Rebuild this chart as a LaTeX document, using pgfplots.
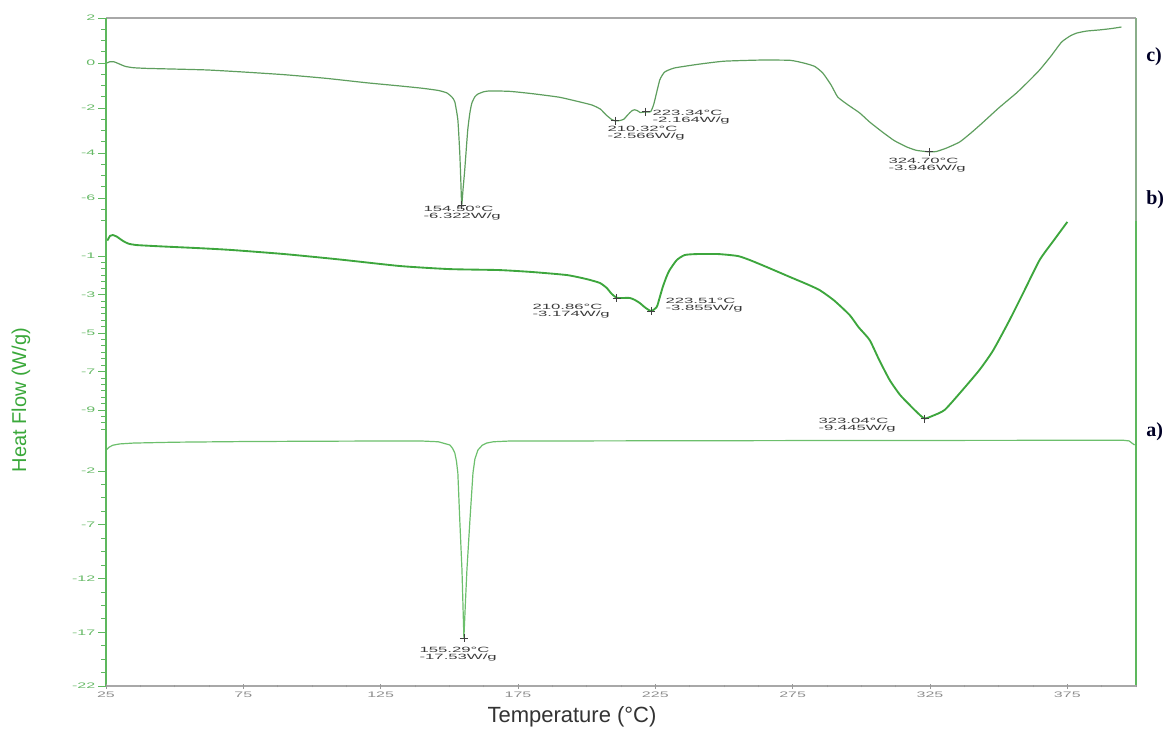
\documentclass[border=0pt]{standalone}
\usepackage{fontspec}
\setmainfont{Liberation Sans}
\newfontfamily\serifb{Liberation Serif}
\usepackage{pgfplots}
\pgfplotsset{compat=1.18}

\definecolor{axgreen}{HTML}{5DB85D}
\definecolor{tlgreen}{HTML}{66B966}
\definecolor{cc}{HTML}{5E9E5E}
\definecolor{cb}{HTML}{3DA63D}
\definecolor{ca}{HTML}{6CBF6C}
\definecolor{ylab}{HTML}{3AA83A}
\definecolor{framegray}{HTML}{A8A8A8}
\definecolor{anntext}{HTML}{3A3A3A}

\pgfplotsset{
 panel/.style={
  scale only axis, width=772.5pt, xmin=25, xmax=400,
  xtick=\empty, ytick pos=left, tick align=outside,
  major tick length=6pt, minor tick length=3.75pt,
  axis line style={draw=none},
  every tick/.style={axgreen, line width=0.6pt},
  /pgf/number format/assume math mode=true,
  yticklabel style={font=\fontsize{6}{6}\selectfont, text=tlgreen, xscale=2.0, anchor=east, xshift=2.5pt},
  clip=false, anchor=north west,
 },
 pk/.style={only marks, mark=+, mark size=3pt, black!75, mark options={line width=0.5pt}},
}
\tikzset{
 ann/.style={font=\fontsize{5.7}{5.4}\selectfont, text=anntext, xscale=2.2, anchor=north west, align=left, inner sep=0pt},
}

\begin{document}
\begin{tikzpicture}
\path[use as bounding box] (0,0) rectangle (880.5pt,-546.75pt);

% ---- top panel c)
\begin{axis}[panel, at={(79.5pt,-13.5pt)}, height=151.875pt,
  ymin=-7, ymax=2, ytick={-8,-6,...,2}, minor y tick num=3]
\addplot[cc, line width=0.9pt, line join=round, smooth, tension=0.3] coordinates {
(25.3,0.0)(26.5,0.06)(28,0.05)(30,-0.05)(32,-0.15)(35,-0.21)(40,-0.24)(50,-0.27)(62,-0.31)
(75,-0.40)(90,-0.52)(105,-0.68)(120,-0.88)(132,-1.02)(140,-1.12)(146,-1.22)(149.1,-1.33)
(151,-1.52)(152,-1.73)(153.1,-2.53)(153.8,-4.0)(154.2,-5.3)(154.5,-6.32)(155.0,-5.6)(155.6,-4.76)
(156.7,-2.98)(157.5,-2.2)(158.2,-1.78)(159.3,-1.5)(160.4,-1.38)(162.5,-1.28)(164.7,-1.24)
(172,-1.26)(180,-1.36)(190,-1.52)(197.5,-1.73)(202,-1.87)(205,-2.05)(207,-2.3)(209,-2.5)
(210.3,-2.57)(212,-2.56)(213.5,-2.5)(215,-2.3)(216.5,-2.12)(217.5,-2.08)(218.5,-2.12)
(219.5,-2.2)(221,-2.18)(223.3,-2.16)(224.5,-1.8)(226.6,-0.76)(228.4,-0.4)(232,-0.22)
(241,-0.05)(250,0.08)(263,0.13)(274,0.12)(279,0.0)(283,-0.15)(286,-0.45)(289,-0.98)
(291.4,-1.51)(295,-1.85)(299.4,-2.22)(303,-2.62)(307.7,-3.07)(312,-3.45)(316.5,-3.73)
(320,-3.88)(324.7,-3.95)(327.4,-3.93)(331,-3.78)(335.8,-3.51)(340,-3.1)(344,-2.67)
(350,-2.0)(356.5,-1.33)(361,-0.8)(364.9,-0.31)(369,0.3)(372.9,0.93)(376,1.2)(378.4,1.33)
(382,1.42)(386.7,1.47)(391,1.53)(394.7,1.6)};
\addplot[pk] coordinates {(154.50,-6.322)(210.32,-2.566)(221.5,-2.164)(324.70,-3.946)};
\draw[framegray, line width=0.8pt] (rel axis cs:0,1) -- (rel axis cs:1,1);
\draw[axgreen, line width=1.1pt] (rel axis cs:0,0) -- (rel axis cs:0,1);
\draw[framegray!60!axgreen, line width=0.9pt] (rel axis cs:1,0) -- (rel axis cs:1,1);
\end{axis}

% ---- middle panel b)
\begin{axis}[panel, at={(79.5pt,-165.375pt)}, height=159.375pt,
  ymin=-10.195, ymax=0.844, ytick={-11,-9,...,-1}, minor y tick num=5]
\addplot[cb, line width=1.4pt, line join=round, smooth, tension=0.35] coordinates {
(25.5,-0.2)(26.5,0.05)(27.5,0.09)(29,0.0)(31,-0.2)(33,-0.35)(36,-0.43)(45,-0.5)(60,-0.6)
(71,-0.69)(90,-0.9)(110,-1.18)(132,-1.52)(150,-1.68)(168,-1.73)(180,-1.83)(192.8,-1.99)
(200,-2.2)(204.8,-2.4)(207.3,-2.66)(209,-2.95)(210.9,-3.17)(213,-3.18)(215.7,-3.18)
(217.5,-3.28)(219.3,-3.44)(221.5,-3.7)(223.5,-3.86)(225.5,-3.65)(226.5,-3.2)(227.7,-2.61)
(229,-2.1)(230.2,-1.73)(232.8,-1.21)(235.7,-0.95)(240,-0.9)(248,-0.9)(255,-1.0)(259.4,-1.21)
(266,-1.6)(274,-2.09)(280,-2.45)(284.8,-2.77)(290,-3.3)(295.7,-4.06)(299,-4.7)(303,-5.36)
(306.5,-6.4)(310.3,-7.44)(314,-8.2)(317.6,-8.74)(320.5,-9.15)(323,-9.44)(326,-9.3)
(330.3,-9.0)(336,-8.1)(343,-6.92)(348,-5.9)(354,-4.32)(359,-2.9)(364.9,-1.21)(370,-0.2)(375,0.77)};
\addplot[pk] coordinates {(210.86,-3.174)(223.51,-3.855)(323.04,-9.445)};
\draw[axgreen, line width=1.1pt] (rel axis cs:0,0) -- (rel axis cs:0,1);
\draw[axgreen, line width=0.9pt] (rel axis cs:1,0) -- (rel axis cs:1,1);
\end{axis}

% ---- bottom panel a)
\begin{axis}[panel, at={(79.5pt,-324.75pt)}, height=189.75pt,
  ymin=-22, ymax=1.535, ytick={-22,-17,...,-2}, minor y tick num=3]
\addplot[ca, line width=0.9pt, line join=round] coordinates {
(25.3,0.0)(26,0.2)(27.5,0.4)(30,0.52)(35,0.6)(50,0.68)(75,0.74)(100,0.77)(125,0.79)(140,0.79)
(146,0.72)(150.2,0.42)(151.2,0.1)(152,-0.33)(152.6,-1.1)(153.1,-2.19)(153.8,-6.56)(154.6,-11.2)
(155.3,-17.53)(155.9,-14.0)(156.4,-11.2)(157.5,-6.56)(158.6,-2.19)(159.3,-0.9)(160.4,-0.05)
(162,0.4)(163.6,0.6)(166,0.72)(172,0.79)(200,0.8)(250,0.82)(300,0.84)(350,0.85)(380,0.86)
(395,0.87)(397.5,0.8)(398.5,0.6)(399.5,0.42)};
\addplot[pk] coordinates {(155.29,-17.53)};
\draw[axgreen, line width=1.1pt] (rel axis cs:0,0) -- (rel axis cs:0,1);
\draw[axgreen, line width=0.9pt] (rel axis cs:1,0) -- (rel axis cs:1,1);
\draw[framegray, line width=0.8pt] (rel axis cs:0,0) -- (rel axis cs:1,0);
\end{axis}

% ---- x ticks of the bottom panel
\begin{axis}[scale only axis, width=772.5pt, height=189.75pt, at={(79.5pt,-324.75pt)}, anchor=north west,
  xmin=25, xmax=400, ymin=0, ymax=1, ytick=\empty,
  xtick={25,75,...,425}, minor x tick num=3, xtick pos=bottom,
  tick align=center, major tick length=3.75pt, minor tick length=2.2pt,
  axis line style={draw=none},
  every tick/.style={gray!80, line width=0.6pt},
  /pgf/number format/assume math mode=true,
  xticklabel style={font=\fontsize{6}{6}\selectfont, text=gray!90, xscale=2.0, yshift=1pt}]
\end{axis}

\begin{scope}[x=0.75pt, y=-0.75pt]
\node[ann] at (423,206) {154.50°C\\-6.322W/g};
\node[ann] at (607,126) {210.32°C\\-2.566W/g};
\node[ann] at (652,110) {223.34°C\\-2.164W/g};
\node[ann] at (888,158) {324.70°C\\-3.946W/g};
\node[ann] at (532,304) {210.86°C\\-3.174W/g};
\node[ann] at (665,298) {223.51°C\\-3.855W/g};
\node[ann] at (818,418) {323.04°C\\-9.445W/g};
\node[ann] at (419,647) {155.29°C\\-17.53W/g};

\node[font=\fontsize{16.5}{18}\selectfont, text=black!80] at (572,717) {Temperature (°C)};
\node[font=\fontsize{15}{17}\selectfont, text=ylab, rotate=90] at (21,400) {Heat Flow (W/g)};

\node[font=\serifb\bfseries\fontsize{15}{17}\selectfont, text=black!85!blue, anchor=west, inner sep=0pt] at (1146,57) {c)};
\node[font=\serifb\bfseries\fontsize{15}{17}\selectfont, text=black!85!blue, anchor=west, inner sep=0pt] at (1146,200) {b)};
\node[font=\serifb\bfseries\fontsize{15}{17}\selectfont, text=black!85!blue, anchor=west, inner sep=0pt] at (1146,432) {a)};
\end{scope}
\end{tikzpicture}
\end{document}
